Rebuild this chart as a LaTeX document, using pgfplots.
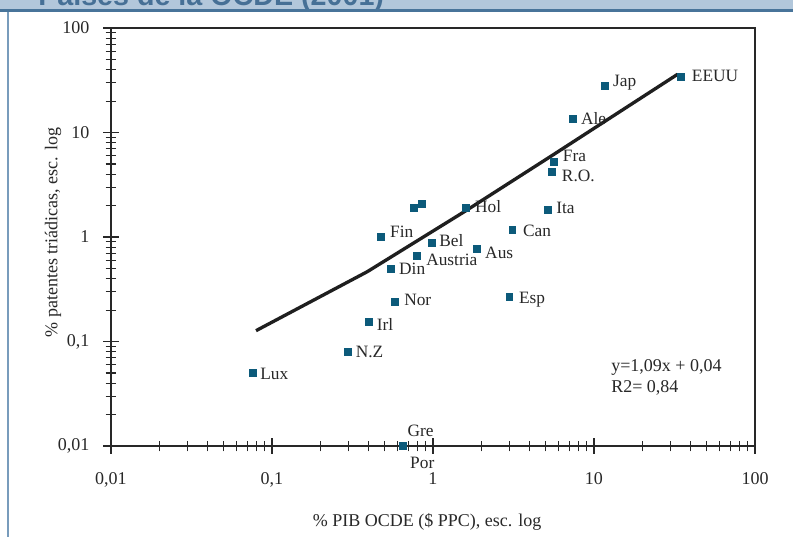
\documentclass[border=0pt]{standalone}
\usepackage{fontspec}
\setmainfont{Liberation Serif}
\newfontfamily\titlefont{Liberation Sans}
\usepackage{pgfplots}
\pgfplotsset{compat=1.18}
\definecolor{mk}{RGB}{12,90,122}
\definecolor{bandlight}{RGB}{178,199,219}
\definecolor{banddark}{RGB}{72,116,154}
\definecolor{titleblue}{RGB}{70,112,150}
\definecolor{borderblue}{RGB}{120,156,188}
\definecolor{txt}{RGB}{40,40,40}
\begin{document}
\begin{tikzpicture}
\useasboundingbox (0,0) rectangle (594.75pt,-402.75pt);
\clip (0,0) rectangle (594.75pt,-402.75pt);
\fill[white] (0,0) rectangle (594.75pt,-402.75pt);
\fill[bandlight] (0,0) rectangle (594.75pt,-7.5pt);
\node[anchor=base west, inner sep=0pt, text=titleblue, font=\titlefont\bfseries\fontsize{21.5}{24}\selectfont] at (28.5pt,-4pt) {Países de la OCDE (2001)};
\fill[banddark] (0,-6.75pt) rectangle (594.75pt,-9.25pt);
\draw[borderblue, line width=1.2pt] (6pt,-9pt) -- (6pt,-402.75pt);
\begin{axis}[
  at={(83.25pt,-334.5pt)}, anchor=south west,
  scale only axis, width=483pt, height=313.5pt,
  xmode=log, ymode=log,
  xmin=0.01, xmax=100, ymin=0.01, ymax=100,
  clip=false,
  axis line style={txt, line width=0.9pt},
  tick style={txt, line width=0.8pt},
  tick align=center,
  xtick pos=bottom, ytick pos=left,
  major tick length=12pt, minor tick length=8pt,
  log ticks with fixed point,
  /pgf/number format/.cd, use comma, 1000 sep={}, assume math mode=true,
  /pgfplots/.cd,
  xticklabel style={font=\fontsize{13.5}{15}\selectfont, text=txt, anchor=north, inner sep=0pt, yshift=-13.5pt},
  yticklabel style={font=\fontsize{13.5}{15}\selectfont, text=txt, anchor=east, inner sep=0pt, xshift=-10pt},
  xlabel={\% PIB OCDE (\$ PPC), esc. log},
  ylabel={\% patentes triádicas, esc. log},
  xlabel style={at={(axis description cs:0.491,-0.182)}, anchor=center, font=\fontsize{13.5}{15}\selectfont, text=txt},
  ylabel style={at={(axis description cs:-0.0901,0.511)}, anchor=center, font=\fontsize{13.5}{15}\selectfont, text=txt},
]
\addplot[line width=2.5pt, color=black!88, line join=round] coordinates {(0.0796,0.127) (0.39,0.465) (1.6,1.784) (5.5,6.035) (33.1,36.12)};
\addplot[only marks, mark=square*, mark size=2.5pt, color=mk, mark options={draw=mk, fill=mk}]
  coordinates {(0.759,1.91) (0.851,2.07)};
\addplot[only marks, mark=square*, mark size=2.5pt, color=mk, mark options={draw=mk, fill=mk},
  nodes near coords, point meta=explicit symbolic,
  visualization depends on={value \thisrow{dx}\as\dx},
  visualization depends on={value \thisrow{dy}\as\dy},
  every node near coord/.append style={anchor=base west, inner sep=0pt, text=txt,
     font=\fontsize{13}{15}\selectfont, xshift={\dx*0.75pt}, yshift={\dy*0.75pt}}]
  table[x=x, y=y, meta=lab] {
x      y      lab     dx    dy
34.7   34.2   EEUU    10.7  -5
11.7   28.0   Jap     8     -1
7.38   13.6   Ale     8     -6.3
5.62   5.26   Fra     9     0
5.46   4.19   R.O.    10    -9.7
5.18   1.81   Ita     8     -3.3
1.60   1.90   Hol     9     -4.3
3.10   1.17   Can     10.7  -6.7
0.475  1.01   Fin     9     -0.6
0.982  0.881  Bel     7.3   -4
1.876  0.767  Aus     8     -9
0.796  0.658  Austria 9     -9
0.548  0.498  Din     8     -5.6
2.97   0.268  Esp     9.7   -6.6
0.581  0.239  Nor     9     -3.7
0.400  0.155  Irl     7.7   -9
0.296  0.0794 N.Z     7.7   -5.7
0.0759 0.0503 Lux     7.3   -6.6
0.648  0.01   Gre     4.6   9.3
0.648  0.01   Por     7.3   -22
};
\end{axis}
\node[anchor=base west, inner sep=0pt, text=txt, font=\fontsize{13.5}{15}\selectfont] at (458.25pt,-278.25pt) {y=1,09x + 0,04};
\node[anchor=base west, inner sep=0pt, text=txt, font=\fontsize{13.5}{15}\selectfont] at (458.25pt,-294.5pt) {R2= 0,84};
\end{tikzpicture}
\end{document}
